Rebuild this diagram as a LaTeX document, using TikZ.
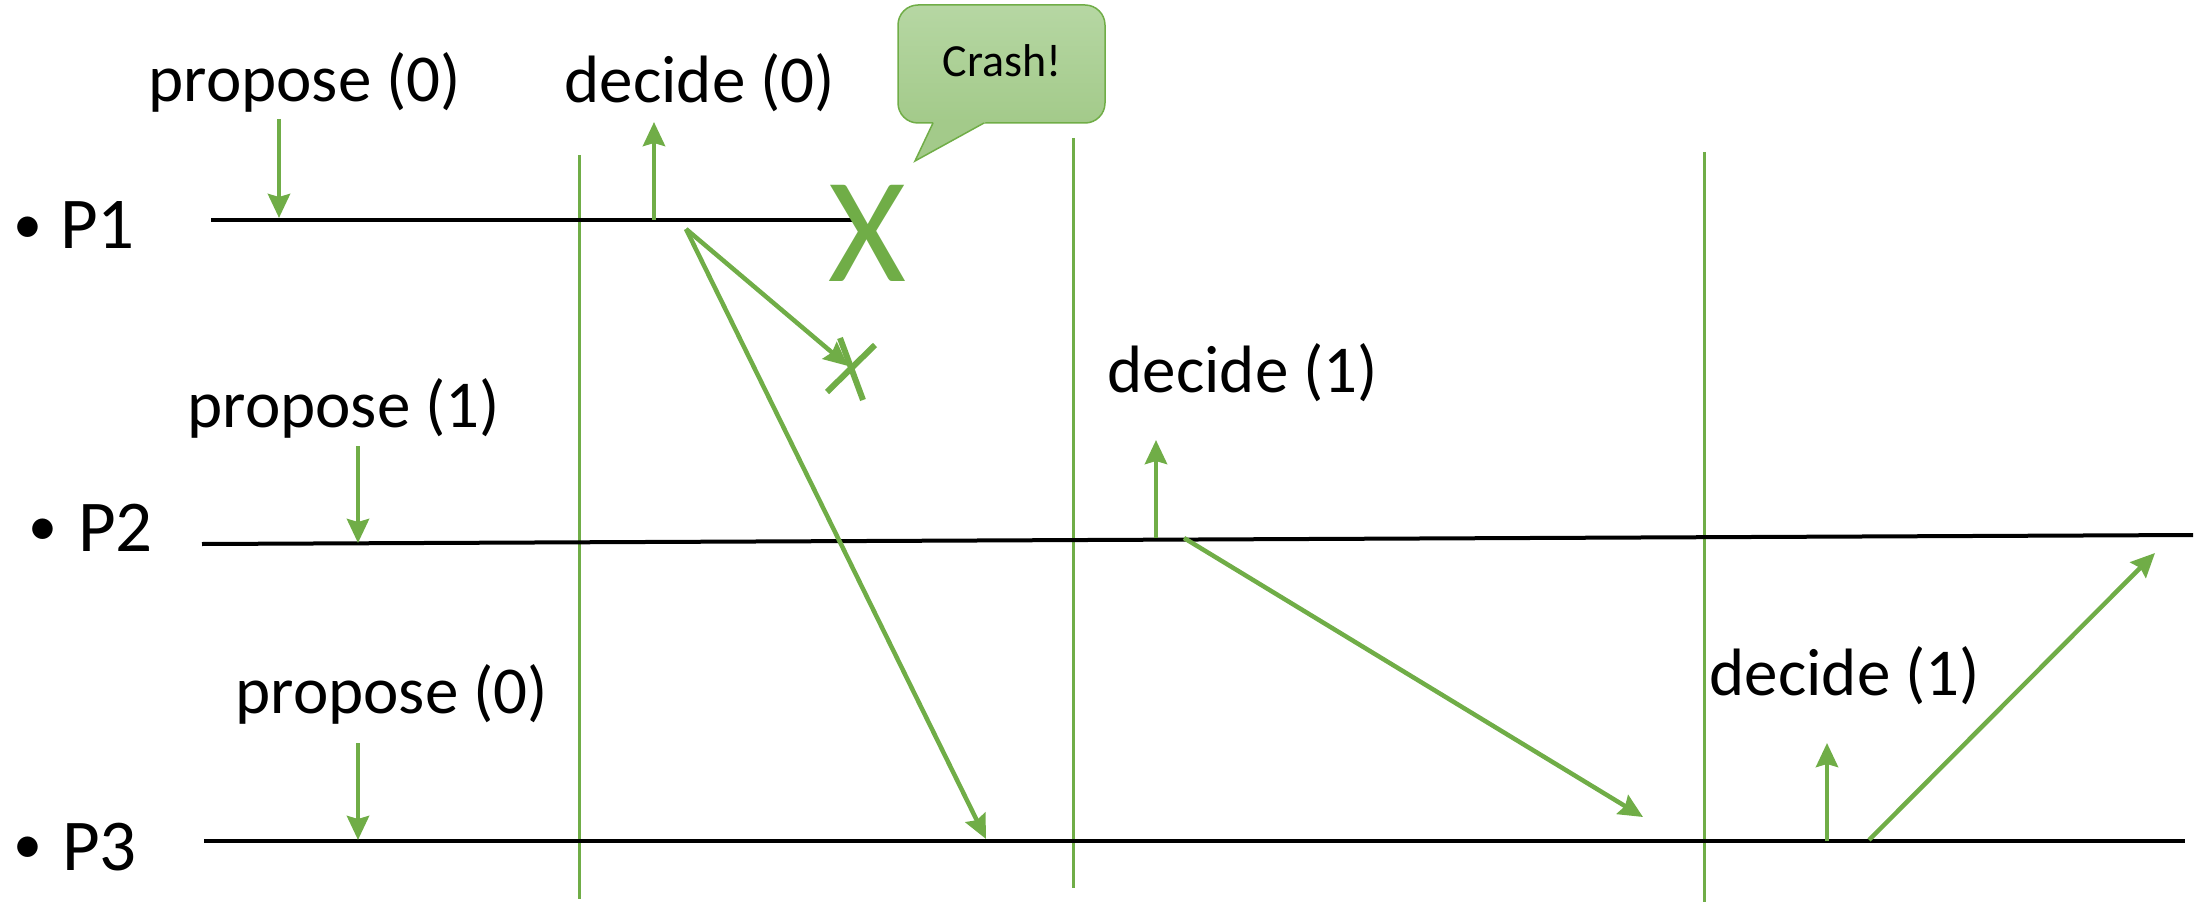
\documentclass[tikz,border=0pt]{standalone}
\usepackage{fontspec}
\setmainfont{Carlito}
\usetikzlibrary{arrows.meta}
\definecolor{grn}{HTML}{70AD47}
\definecolor{caltop}{HTML}{B6D7A3}
\definecolor{calbot}{HTML}{A3CA8A}
\begin{document}
\begin{tikzpicture}[x=1pt,y=-1pt,
  lbl/.style={font=\fontsize{67}{80}\selectfont, inner sep=0pt, anchor=base},
  plbl/.style={font=\fontsize{73}{88}\selectfont, inner sep=0pt, anchor=base west},
  bul/.style={font=\fontsize{58}{70}\selectfont, inner sep=0pt},
  proc/.style={line width=4pt, black},
  phase/.style={line width=3pt, grn},
  msg/.style={line width=4.5pt, grn, -{Stealth[length=24pt,width=22pt,inset=3pt]}},
  crossline/.style={line width=6pt, grn},
  callout/.style={line width=1.5pt, draw=grn}
]
\useasboundingbox (0,0) rectangle (2203,904);

% phase separators
\coordinate (v1t) at (579,155);  \coordinate (v1b) at (579,899);
\coordinate (v2t) at (1073,138); \coordinate (v2b) at (1073,888);
\coordinate (v3t) at (1704,152); \coordinate (v3b) at (1704,902);
\draw[phase] (v1t) -- (v1b);
\draw[phase] (v2t) -- (v2b);
\draw[phase] (v3t) -- (v3b);

% process lines
\coordinate (p1s) at (211,220);  \coordinate (p1e) at (852,220);
\coordinate (p2s) at (202,544);  \coordinate (p2e) at (2193,535);
\coordinate (p3s) at (204,841);  \coordinate (p3e) at (2185,841);
\draw[proc] (p1s) -- (p1e);
\draw[proc] (p2s) -- (p2e);
\draw[proc] (p3s) -- (p3e);

% process labels
\node[bul] (b1) at (28,230) {•};
\node[bul] (b2) at (43,532) {•};
\node[bul] (b3) at (28,850) {•};
\node[plbl] (P1) at (60,248) {P1};
\node[plbl] (P2) at (78,551) {P2};
\node[plbl] (P3) at (62,870) {P3};

% event labels
\node[lbl] (prop0) at (305,102) {propose (0)};
\node[lbl] (dec0)  at (700,103) {decide (0)};
\node[lbl] (prop1) at (344,427) {propose (1)};
\node[lbl] (prop0b) at (392,713) {propose (0)};
\node[lbl] (dec1)  at (1243,392) {decide (1)};
\node[lbl] (dec1b) at (1845,695) {decide (1)};

% arrow end points
\coordinate (a1s) at (279,119);  \coordinate (a1e) at (279,218);
\coordinate (a2s) at (654,220);  \coordinate (a2e) at (654,122);
\coordinate (m1) at (686,229);
\coordinate (lost) at (848,366);
\coordinate (m1e) at (986,839);
\coordinate (a3s) at (358,446);  \coordinate (a3e) at (358,543);
\coordinate (a4s) at (358,743);  \coordinate (a4e) at (358,840);
\coordinate (a5s) at (1156,538); \coordinate (a5e) at (1156,440);
\coordinate (m2s) at (1184,538); \coordinate (m2e) at (1643,817);
\coordinate (a6s) at (1827,841); \coordinate (a6e) at (1827,743);
\coordinate (m3s) at (1869,840); \coordinate (m3e) at (2155,553);

\draw[msg] (a1s) -- (a1e);
\draw[msg] (a2s) -- (a2e);
\draw[msg] (m1) -- (lost);
\draw[msg] (m1) -- (m1e);
\draw[msg] (a3s) -- (a3e);
\draw[msg] (a4s) -- (a4e);
\draw[msg] (a5s) -- (a5e);
\draw[msg] (m2s) -- (m2e);
\draw[msg] (a6s) -- (a6e);
\draw[msg] (m3s) -- (m3e);

% lost message cross
\draw[crossline] (840,338) -- (863,400);
\draw[crossline] (875,345) -- (827,392);

% crash mark
\node[font=\fontsize{150}{150}\selectfont, text=grn, inner sep=0pt, anchor=base] (crashX) at (867,281) {X};

% callout
\shade[top color=caltop, bottom color=calbot, rounded corners=20pt, callout] (898,5) rectangle (1105,123);
\fill[calbot] (934,121) -- (915,161) -- (987.6,121) -- cycle;
\draw[callout] (933,123) -- (915,161) -- (984,123);
\node[font=\fontsize{46}{55}\selectfont, inner sep=0pt, anchor=base] (crash) at (1002,77) {Crash!};
\end{tikzpicture}
\end{document}
